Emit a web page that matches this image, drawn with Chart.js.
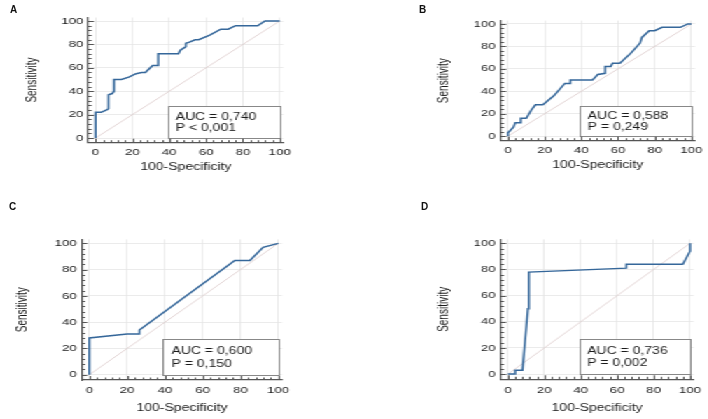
<!DOCTYPE html>
<html>
<head>
<meta charset="utf-8">
<script src="https://cdn.jsdelivr.net/npm/chart.js@4.4.1/dist/chart.umd.min.js"></script>
<style>
  html, body { margin: 0; padding: 0; background: #fff; }
  body { width: 708px; height: 419px; position: relative; overflow: hidden; }
  /* the source figure is stretched sideways, so the charts are drawn narrow and widened */
  #stretch { position: absolute; left: 0; top: 0; width: 506px; height: 419px; transform: scaleX(1.4); transform-origin: 0 0; }
  #stretch canvas { position: absolute; }
  .tag { position: absolute; font: bold 10px 'Liberation Sans', Arial, sans-serif; color: #111; line-height: 12px; }
</style>
</head>
<body>
<div id="stretch">
  <canvas id="roc-a" width="253" height="209" style="left:0;top:0;width:253px;height:209px"></canvas>
  <canvas id="roc-b" width="253" height="209" style="left:253px;top:0;width:253px;height:209px"></canvas>
  <canvas id="roc-c" width="253" height="210" style="left:0;top:209px;width:253px;height:210px"></canvas>
  <canvas id="roc-d" width="253" height="210" style="left:253px;top:209px;width:253px;height:210px"></canvas>
</div>
<div class="tag" style="left:10px;top:4px">A</div>
<div class="tag" style="left:419px;top:4px">B</div>
<div class="tag" style="left:9px;top:201px">C</div>
<div class="tag" style="left:421px;top:201px">D</div>

<script>
// ROC curves (100-Specificity, Sensitivity)
const fprA = [0, 0, 3, 6, 7, 7, 9, 10, 10, 14, 18, 22, 25, 27, 31, 34, 34, 45, 46, 48, 49, 49, 51, 54, 56, 62, 68, 72, 76, 88, 92, 100];
const tprA = [0, 22, 22, 24, 25, 37, 38, 40, 50, 50, 52, 55, 56, 56, 62, 62, 72, 72, 75, 77, 78, 81, 82, 84, 84, 88, 93, 93, 96, 96, 100, 100];

const fprB = [0, 0, 3, 4, 7, 7, 10, 13, 15, 19, 25, 31, 34, 34, 46, 49, 53, 53, 56, 57, 61, 67, 72, 73, 77, 80, 84, 94, 98, 100];
const tprB = [0, 3, 8, 12, 12, 16, 16, 24, 28, 28, 36, 47, 47, 50, 50, 55, 56, 62, 62, 65, 65, 74, 83, 88, 94, 94, 97, 97, 100, 100];

const fprC = [0, 0, 20, 26.5, 26.5, 77, 85, 92, 100];
const tprC = [0, 28, 31, 31, 34, 87, 87, 97, 100];

const fprD = [0, 4, 4, 8, 11, 11.5, 65, 65, 96, 100, 100];
const tprD = [0, 0, 3, 3, 50, 78, 81, 84, 84, 94, 100];

const aucLabels = ['AUC = 0,740', 'AUC = 0,588', 'AUC = 0,600', 'AUC = 0,736'];
const pLabels = ['P < 0,001', 'P = 0,249', 'P = 0,150', 'P = 0,002'];

const majorTicks = [0, 20, 40, 60, 80, 100];
const chanceLine = [0, 100];

Chart.defaults.font.family = "'Liberation Sans', Arial, Helvetica, sans-serif";
Chart.defaults.color = '#222';

// small tick marks pointing into the plot, MedCalc style
const innerTicks = {
    id: 'innerTicks',
    afterDraw(chart) {
        const ctx = chart.ctx;
        const area = chart.chartArea;
        const xs = chart.scales.x, ys = chart.scales.y;
        ctx.save();
        ctx.strokeStyle = '#555';
        ctx.lineWidth = 1;
        for (let i = 0; i < majorTicks.length; i++) {
            const v = majorTicks[i];
            const next = majorTicks[i + 1];
            const marks = [[v, 4]];
            if (next !== undefined) {
                for (let k = 1; k < 5; k++) marks.push([v + (next - v) * k / 5, 2.5]);
            }
            marks.forEach(([val, len]) => {
                const px = Math.round(xs.getPixelForValue(val)) + 0.5;
                ctx.beginPath();
                ctx.moveTo(px, area.bottom);
                ctx.lineTo(px, area.bottom - len);
                ctx.stroke();
                const py = Math.round(ys.getPixelForValue(val)) + 0.5;
                ctx.beginPath();
                ctx.moveTo(area.left, py);
                ctx.lineTo(area.left + len, py);
                ctx.stroke();
            });
        }
        ctx.restore();
    }
};

// white box with AUC and P value in the lower right corner
const aucBox = {
    id: 'aucBox',
    afterDatasetsDraw(chart, args, opts) {
        const ctx = chart.ctx;
        const xs = chart.scales.x, ys = chart.scales.y;
        const left = Math.round(xs.getPixelForValue(39)) + 0.5;
        const right = Math.round(xs.getPixelForValue(100)) + 0.5;
        const top = Math.round(ys.getPixelForValue(27)) + 0.5;
        const bottom = Math.round(ys.getPixelForValue(0)) + 0.5;
        ctx.save();
        ctx.fillStyle = '#fff';
        ctx.fillRect(left, top, right - left, bottom - top);
        ctx.strokeStyle = '#888';
        ctx.lineWidth = 1;
        ctx.strokeRect(left, top, right - left, bottom - top);
        ctx.fillStyle = '#1a1a1a';
        ctx.font = "10px 'Liberation Sans', Arial, sans-serif";
        ctx.textBaseline = 'middle';
        const tx = xs.getPixelForValue(43.5);
        const h = bottom - top;
        ctx.fillText(opts.auc, tx, top + h * 0.33);
        ctx.fillText(opts.p, tx, top + h * 0.69);
        ctx.restore();
    }
};

function drawRoc(id, fpr, tpr, auc, p, geo) {
    const curve = fpr.map((x, i) => ({ x: x, y: tpr[i] }));
    const chance = chanceLine.map(v => ({ x: v, y: v }));
    const setTicks = scale => { scale.ticks = majorTicks.map(v => ({ value: v })); };

    new Chart(document.getElementById(id), {
        type: 'line',
        data: {
            datasets: [
                { data: curve, borderColor: '#35679a', borderWidth: 1.5, pointRadius: 0, tension: 0, order: 0 },
                { data: chance, borderColor: '#dccaca', borderWidth: 0.8, pointRadius: 0, order: 1 }
            ]
        },
        options: {
            responsive: false,
            animation: false,
            events: [],
            layout: { padding: { left: 0, top: geo.top, right: geo.right, bottom: 0 } },
            plugins: {
                legend: { display: false },
                tooltip: { enabled: false },
                aucBox: { auc: auc, p: p }
            },
            scales: {
                x: {
                    type: 'linear', min: -4, max: 102,
                    afterBuildTicks: setTicks,
                    afterFit: s => { s.height = geo.xh; },
                    grid: { color: '#e6e6e6', lineWidth: 0.8, drawTicks: false },
                    border: { color: '#555', width: 1.2 },
                    ticks: { padding: geo.xpad, autoSkip: false, maxRotation: 0, font: { size: 9.5 }, color: '#222' },
                    title: { display: true, text: '100-Specificity', color: '#1a1a1a', font: { size: 10 }, padding: { top: 0, bottom: geo.xtitle } }
                },
                y: {
                    type: 'linear', min: -4, max: 103,
                    afterBuildTicks: setTicks,
                    afterFit: s => { s.width = geo.yw; },
                    grid: { color: '#e6e6e6', lineWidth: 0.8, drawTicks: false },
                    border: { color: '#555', width: 1.2 },
                    ticks: { padding: 3.5, font: { size: 9.5 }, color: '#222' },
                    title: { display: true, text: 'Sensitivity', color: '#1a1a1a', font: { size: 10 }, padding: { top: geo.ytitle, bottom: 0 } }
                }
            }
        },
        plugins: [innerTicks, aucBox]
    });
}

drawRoc('roc-a', fprA, tprA, aucLabels[0], pLabels[0], { yw: 63, top: 17.5, right: 50.6, xh: 66.3, xpad: 4, xtitle: 36, ytitle: 17 });
drawRoc('roc-b', fprB, tprB, aucLabels[1], pLabels[1], { yw: 104.6, top: 20.6, right: 8.6, xh: 68.3, xpad: 4, xtitle: 38, ytitle: 58.4 });
drawRoc('roc-c', fprC, tprC, aucLabels[2], pLabels[2], { yw: 58.4, top: 30.4, right: 51.6, xh: 39, xpad: 5, xtitle: 5, ytitle: 10.7 });
drawRoc('roc-d', fprD, tprD, aucLabels[3], pLabels[3], { yw: 104.6, top: 30.4, right: 8.1, xh: 39.7, xpad: 5, xtitle: 5, ytitle: 58.4 });
</script>
</body>
</html>
